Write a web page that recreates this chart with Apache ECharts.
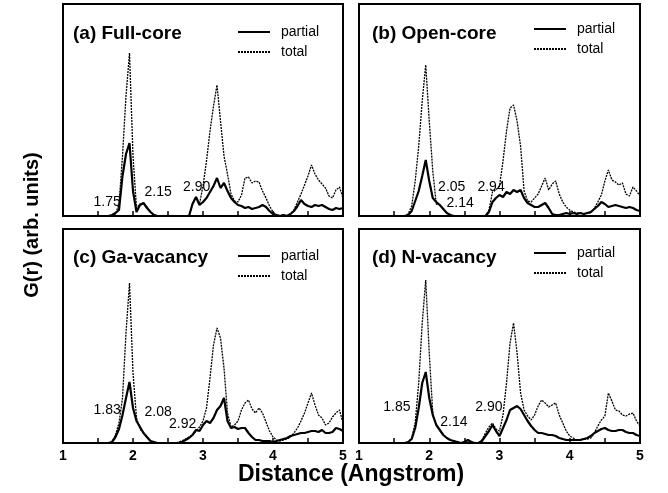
<!DOCTYPE html>
<html>
<head>
<meta charset="utf-8">
<script src="https://cdn.jsdelivr.net/npm/echarts@6/dist/echarts.min.js"></script>
<style>
  html, body { margin: 0; padding: 0; background: #fff; }
  #chart { width: 668px; height: 493px; }
</style>
</head>
<body>
<div id="chart"></div>
<script>
// r grid (Angstrom)
const R = [
  1.00, 1.05, 1.10, 1.15, 1.20, 1.25, 1.30, 1.35, 1.40, 1.45,
  1.50, 1.55, 1.60, 1.65, 1.70, 1.75, 1.80, 1.85, 1.90, 1.95,
  2.00, 2.05, 2.10, 2.15, 2.20, 2.25, 2.30, 2.35, 2.40, 2.45,
  2.50, 2.55, 2.60, 2.65, 2.70, 2.75, 2.80, 2.85, 2.90, 2.95,
  3.00, 3.05, 3.10, 3.15, 3.20, 3.25, 3.30, 3.35, 3.40, 3.45,
  3.50, 3.55, 3.60, 3.65, 3.70, 3.75, 3.80, 3.85, 3.90, 3.95,
  4.00, 4.05, 4.10, 4.15, 4.20, 4.25, 4.30, 4.35, 4.40, 4.45,
  4.50, 4.55, 4.60, 4.65, 4.70, 4.75, 4.80, 4.85, 4.90, 4.95,
  5.00
];

// (a) Full-core
const partialA = [
  0, 0, 0, 0, 0, 0, 0, 0, 0, 0,
  0, 0, 0, 0, 1, 3, 6, 40, 62, 73,
  25, 4, 11, 13, 8, 4, 1, 0, 0, 0,
  0, 0, 0, 0, 0, 0, 0, 12, 19, 11,
  14, 18, 24, 30, 38, 28, 33, 25, 18, 14,
  11, 10, 8, 9, 7, 8, 9, 11, 9, 5,
  2, 1, 0, 1, 0, 2, 5, 10, 16, 12,
  10, 9, 11, 10, 11, 9, 7, 6, 8, 7,
  8
];
const totalA = [
  0, 0, 0, 0, 0, 0, 0, 0, 0, 0,
  0, 0, 0, 0, 0, 2, 12, 60, 120, 163,
  60, 8, 12, 13, 9, 4, 1, 0, 0, 0,
  0, 0, 0, 0, 0, 0, 0, 12, 19, 12,
  30, 55, 85, 110, 131, 95, 60, 42, 22, 15,
  14, 21, 38, 39, 33, 35, 34, 25, 18, 10,
  4, 1, 0, 1, 0, 2, 6, 14, 22, 31,
  40, 51, 42, 36, 32, 28, 20, 18, 26, 29,
  18
];

// (b) Open-core
const partialB = [
  0, 0, 0, 0, 0, 0, 0, 0, 0, 0,
  0, 0, 0, 0, 1, 5, 15, 25, 40, 56,
  35, 18, 14, 11, 7, 3, 1, 0, 0, 0,
  0, 0, 0, 0, 0, 0, 0, 4, 14, 18,
  21, 19, 24, 22, 26, 24, 26, 18, 13, 11,
  9, 9, 11, 13, 8, 2, 1, 1, 2, 3,
  2, 3, 2, 3, 2, 3, 4, 7, 10, 14,
  12, 9, 10, 11, 10, 9, 8, 9, 8, 6,
  5
];
const totalB = [
  0, 0, 0, 0, 0, 0, 0, 0, 0, 0,
  0, 0, 0, 0, 2, 10, 35, 70, 115, 151,
  95, 45, 12, 11, 7, 3, 1, 0, 0, 0,
  0, 0, 0, 0, 0, 0, 0, 6, 24, 26,
  30, 55, 85, 108, 111, 95, 70, 25, 15, 14,
  18, 22, 30, 38, 26, 32, 35, 22, 14, 9,
  6, 4, 3, 3, 2, 3, 3, 8, 14, 21,
  35, 46, 36, 34, 31, 33, 22, 20, 29, 25,
  20
];

// (c) Ga-vacancy
const partialC = [
  0, 0, 0, 0, 0, 0, 0, 0, 0, 0,
  0, 0, 0, 0, 1, 6, 14, 28, 45, 61,
  35, 22, 16, 10, 6, 2, 1, 0, 0, 0,
  0, 0, 0, 0, 1, 3, 5, 8, 13, 12,
  18, 22, 20, 25, 33, 37, 45, 22, 15, 16,
  14, 15, 15, 10, 6, 3, 3, 2, 2, 2,
  1, 2, 3, 4, 5, 7, 8, 9, 10, 10,
  11, 12, 12, 11, 13, 10, 10, 11, 15, 14,
  12
];
const totalC = [
  0, 0, 0, 0, 0, 0, 0, 0, 0, 0,
  0, 0, 0, 0, 1, 8, 20, 45, 110, 160,
  70, 25, 14, 10, 5, 2, 1, 0, 0, 0,
  0, 0, 0, 1, 2, 4, 6, 8, 12, 16,
  22, 35, 65, 98, 115, 105, 75, 30, 16, 18,
  22, 33, 40, 43, 34, 30, 35, 30, 21, 12,
  6, 3, 2, 3, 4, 6, 10, 15, 22, 30,
  40, 50, 38, 28, 25, 18, 20, 26, 30, 33,
  20
];

// (d) N-vacancy
const partialD = [
  0, 0, 0, 0, 0, 0, 0, 0, 0, 0,
  0, 0, 0, 0, 1, 4, 15, 35, 60, 71,
  45, 28, 18, 13, 8, 5, 3, 2, 1, 0,
  1, 3, 1, 0, 0, 2, 7, 12, 18, 12,
  7, 15, 23, 33, 35, 37, 34, 28, 22, 17,
  13, 10, 10, 9, 8, 8, 7, 5, 4, 3,
  3, 3, 3, 3, 4, 5, 7, 10, 12, 14,
  15, 13, 12, 12, 13, 13, 11, 10, 10, 8,
  7
];
const totalD = [
  0, 0, 0, 0, 0, 0, 0, 0, 0, 0,
  0, 0, 0, 0, 1, 5, 20, 60, 120, 163,
  90, 30, 18, 13, 8, 5, 3, 2, 1, 0,
  1, 3, 1, 0, 0, 3, 10, 16, 20, 14,
  12, 28, 60, 100, 120, 90, 50, 33, 27, 23,
  28, 37, 43, 40, 36, 38, 40, 28, 20, 12,
  7, 5, 3, 3, 4, 4, 5, 10, 17, 23,
  27, 50, 42, 33, 32, 28, 27, 29, 30, 22,
  17
];

// peak annotations: [text, r, height]
const notesA = [['1.75', 1.63, 14], ['2.15', 2.36, 24], ['2.90', 2.91, 29]];
const notesB = [['2.05', 2.32, 29], ['2.14', 2.44, 13], ['2.94', 2.88, 29]];
const notesC = [['1.83', 1.63, 33], ['2.08', 2.36, 31], ['2.92', 2.71, 19]];
const notesD = [['1.85', 1.54, 36], ['2.14', 2.35, 21], ['2.90', 2.85, 36]];

const panelTitles = ['(a) Full-core', '(b) Open-core', '(c) Ga-vacancy', '(d) N-vacancy'];
const tickLabels = ['1', '2', '3', '4', '5'];

const font = 'Liberation Sans, Arial, Helvetica, sans-serif';
const panels = [
  { partial: partialA, total: totalA, notes: notesA },
  { partial: partialB, total: totalB, notes: notesB },
  { partial: partialC, total: totalC, notes: notesC },
  { partial: partialD, total: totalD, notes: notesD }
];
const boxes = [
  { left: 63, top: 4, width: 280, height: 212 },
  { left: 359, top: 4, width: 281, height: 212 },
  { left: 63, top: 229, width: 280, height: 214 },
  { left: 359, top: 229, width: 281, height: 214 }
];

const pair = (vals) => R.map((r, i) => [r, vals[i]]);

const grid = [], xAxis = [], yAxis = [], series = [], legend = [], title = [];
panels.forEach((p, i) => {
  const b = boxes[i];
  grid.push({ left: b.left, top: b.top, width: b.width, height: b.height,
    show: true, borderColor: '#000', borderWidth: 2, backgroundColor: 'transparent' });
  xAxis.push({
    gridIndex: i, type: 'value', min: 1, max: 5, interval: 0.5,
    axisLine: { show: true, lineStyle: { color: '#000', width: 2 } },
    axisTick: { show: true, inside: true, length: 5, lineStyle: { color: '#000', width: 1.5 } },
    axisLabel: {
      show: i >= 2, margin: 6, color: '#000', fontSize: 14, fontWeight: 'bold', fontFamily: font,
      showMinLabel: true, showMaxLabel: true,
      formatter: (v) => tickLabels.includes(String(v)) ? String(v) : ''
    },
    splitLine: { show: false }
  });
  yAxis.push({ gridIndex: i, type: 'value', min: 0, max: b.height, show: false });
  series.push({
    type: 'line', name: 'total', xAxisIndex: i, yAxisIndex: i, data: pair(p.total),
    symbol: 'none', silent: true,
    lineStyle: { color: '#000', width: 1.3, type: [2, 1] }, itemStyle: { color: '#000' }
  });
  series.push({
    type: 'line', name: 'partial', xAxisIndex: i, yAxisIndex: i, data: pair(p.partial),
    symbol: 'none', silent: true,
    lineStyle: { color: '#000', width: 2.2 }, itemStyle: { color: '#000' },
    markPoint: {
      symbol: 'circle', symbolSize: 0, silent: true,
      label: { show: true, position: 'inside', formatter: '{b}', color: '#000', fontSize: 14, fontFamily: font },
      data: p.notes.map((n) => ({ name: n[0], coord: [n[1], n[2]] }))
    }
  });
  const right = i % 2 === 1;
  legend.push({
    orient: 'vertical', left: right ? 533 : 237, top: (i < 2 ? 25 : 249) - (right ? 3 : 0),
    data: ['partial', 'total'], selectedMode: false,
    itemWidth: 32, itemHeight: 12, itemGap: 6, padding: 0,
    itemStyle: { color: 'rgba(0,0,0,0)', borderColor: 'rgba(0,0,0,0)', borderWidth: 0, opacity: 0 },
    textStyle: { color: '#000', fontSize: 14, fontFamily: font, padding: [0, 0, 0, 6] }
  });
  title.push({
    text: panelTitles[i], left: right ? 372 : 73, top: i < 2 ? 24 : 248, padding: 0,
    textStyle: { color: '#000', fontSize: 19, fontWeight: 'bold', fontFamily: font }
  });
});

const chart = echarts.init(document.getElementById('chart'));
chart.setOption({
  animation: false,
  backgroundColor: '#fff',
  title, legend, grid, xAxis, yAxis, series,
  graphic: [
    { type: 'text', x: 351, y: 475,
      style: { text: 'Distance (Angstrom)', font: 'bold 23px ' + font, fill: '#000', align: 'center', verticalAlign: 'middle' } },
    { type: 'text', x: 32, y: 225, rotation: Math.PI / 2,
      style: { text: 'G(r) (arb. units)', font: 'bold 20px ' + font, fill: '#000', align: 'center', verticalAlign: 'middle' } }
  ]
});
</script>
</body>
</html>
